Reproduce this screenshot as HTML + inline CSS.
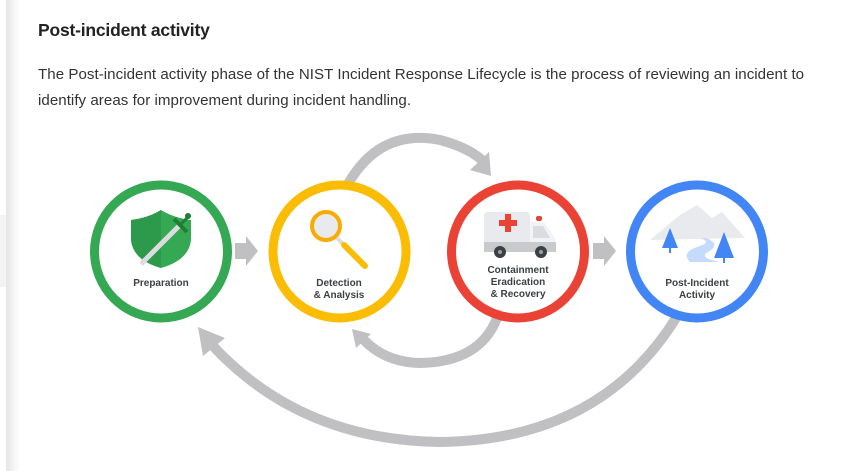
<!DOCTYPE html>
<html><head><meta charset="utf-8"><style>
body{margin:0;width:845px;height:471px;background:#fff;overflow:hidden;position:relative;font-family:"Liberation Sans",sans-serif}
.strip{position:absolute;left:6px;top:0;width:14px;height:471px;background:linear-gradient(to right,#e6e6e6,#fff)}
.strip0{position:absolute;left:0;top:0;width:6px;height:471px;background:#fff}
.box{position:absolute;left:0;top:215px;width:6px;height:72px;background:#f3f3f3}
h1{position:absolute;left:38px;top:20px;margin:0;font-size:17.5px;font-weight:bold;color:#222;letter-spacing:-0.2px}
p{position:absolute;left:38px;top:62px;margin:0;width:800px;white-space:nowrap;font-size:15.1px;line-height:26px;color:#333;letter-spacing:0.04px}
svg{position:absolute;left:0;top:0}
</style></head><body>
<div class="strip0"></div><div class="strip"></div><div class="box"></div>
<h1>Post-incident activity</h1>
<p>The Post-incident activity phase of the NIST Incident Response Lifecycle is the process of reviewing an incident to<br>identify areas for improvement during incident handling.</p>
<svg width="845" height="471" viewBox="0 0 845 471">
<g fill="none" stroke="#c0c0c2" stroke-width="10">
<path d="M348 184 Q380 128 440 140 Q470 148 484 162"/>
<path d="M497 318 Q480 362 420 363 Q385 362 364 340"/>
<path d="M676 318 Q600 440 440 442 Q300 440 212 345"/>
</g>
<g fill="#c0c0c2">
<polygon points="491,176 470,170 489,152"/>
<polygon points="352,329 356,348 371,334"/>
<polygon points="198,327 203,356 225,338"/>
<polygon points="235,243 246,243 246,236 258,251 246,266 246,259 235,259"/>
<polygon points="593,243 604,243 604,236 616,251 604,266 604,259 593,259"/>
</g>
<g fill="#fff" stroke-width="9">
<circle cx="161" cy="251.5" r="66.5" stroke="#34a853"/>
<circle cx="339.5" cy="251.5" r="66.5" stroke="#fbbc04"/>
<circle cx="518" cy="251.5" r="66.5" stroke="#ea4335"/>
<circle cx="697" cy="251.5" r="66.5" stroke="#4285f4"/>
</g>
<path d="M161 210 Q148 218 131 220 L131 240 Q133 260 161 268 Q189 260 191 240 L191 220 Q174 218 161 210Z" fill="#34a853"/>
<path d="M161 210 L161 268 Q133 260 131 240 L131 220 Q148 218 161 210Z" fill="#2c9a4a"/>
<line x1="141" y1="264" x2="180" y2="225" stroke="#dadce0" stroke-width="5"/>
<line x1="174" y1="219" x2="187" y2="232" stroke="#1e7e34" stroke-width="4"/>
<line x1="180" y1="225" x2="187" y2="218" stroke="#1e7e34" stroke-width="3"/>
<circle cx="188" cy="216" r="3" fill="#1e7e34"/>
<circle cx="326" cy="226" r="14" fill="#e8eaed" stroke="#f9ab00" stroke-width="4"/>
<line x1="337" y1="238" x2="344" y2="245" stroke="#dadce0" stroke-width="4"/>
<line x1="344" y1="245" x2="365" y2="266" stroke="#fbbc04" stroke-width="6" stroke-linecap="round"/>
<rect x="484" y="212" width="46" height="36" rx="3" fill="#e8eaed"/>
<path d="M530 222 L544 222 L555 238 L555 252 L530 252Z" fill="#f1f3f4"/>
<path d="M533 226 L543 226 L550 238 L533 238Z" fill="#dadce0"/>
<rect x="484" y="242" width="72" height="10" fill="#c8cacd"/>
<rect x="499" y="220" width="18" height="6" fill="#ea4335"/><rect x="505" y="214" width="6" height="18" fill="#ea4335"/>
<rect x="536" y="216" width="6" height="5" rx="2" fill="#ea4335"/>
<circle cx="500" cy="252" r="6" fill="#3c4043"/><circle cx="541" cy="252" r="6" fill="#3c4043"/>
<circle cx="500" cy="252" r="2" fill="#9aa0a6"/><circle cx="541" cy="252" r="2" fill="#9aa0a6"/>
<path d="M650 240 L680 215 L697 205 L712 218 L722 212 L745 238Z" fill="#e8eaed"/>
<path d="M690 262 Q680 252 700 246 Q712 242 700 238 L706 238 Q722 244 708 252 Q698 258 720 262Z" fill="#c6dafc"/>
<polygon points="670,228 662,248 678,248" fill="#4285f4"/><rect x="669" y="247" width="2" height="6" fill="#4285f4"/>
<polygon points="724,232 714,258 734,258" fill="#4285f4"/><rect x="723" y="257" width="2" height="6" fill="#4285f4"/>
<g font-family="Liberation Sans,sans-serif" font-weight="bold" font-size="10" fill="#3c4043" text-anchor="middle">
<text x="161" y="286">Preparation</text>
<text x="339" y="286">Detection</text><text x="339" y="298">&amp; Analysis</text>
<text x="518" y="273">Containment</text><text x="518" y="285">Eradication</text><text x="518" y="297">&amp; Recovery</text>
<text x="697" y="286">Post-Incident</text><text x="697" y="298">Activity</text>
</g>
</svg>
</body></html>
